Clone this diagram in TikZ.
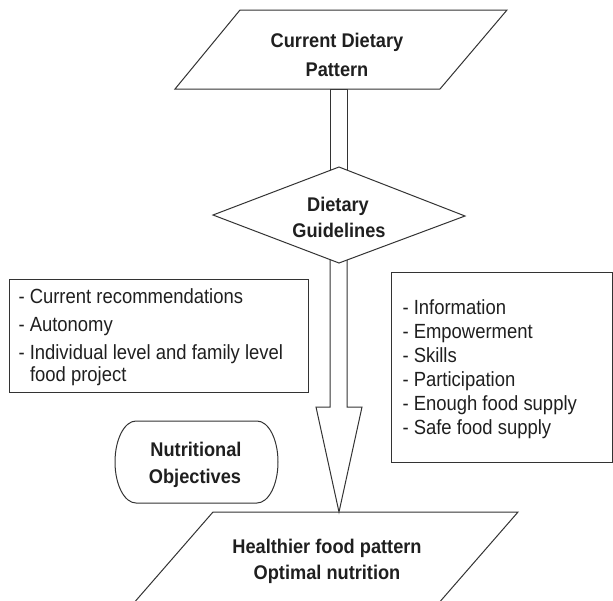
\documentclass[tikz,border=0pt]{standalone}
\usepackage{fontspec}
\setmainfont{Liberation Sans}
\newfontfamily\narrowsans{Liberation Sans}[FakeStretch=0.9]
\newfontfamily\narrowbold{Liberation Sans Bold}[FakeStretch=0.92]
\begin{document}
\begin{tikzpicture}[x=1pt,y=-1pt,line width=1pt,line join=miter,
  ln/.style={draw=black!80},
  ttl/.style={font=\narrowbold\fontsize{19.8}{22}\selectfont,text=black!88,inner sep=0pt,anchor=base},
  itm/.style={font=\narrowsans\fontsize{20.5}{22}\selectfont,text=black!88,inner sep=0pt,anchor=base west}]
\clip (0,0) rectangle (613,600);
% key points
\coordinate (pTopBot) at (339,89);
\coordinate (dTop) at (339,167);
\coordinate (dBot) at (339,263);
\coordinate (tip) at (339,512);
% bottom parallelogram (cut by page edge)
\draw[ln] (119,620) -- (213,512) -- (518,512) -- (424,620);
% upper shaft
\draw[ln] (330,89) rectangle (347,200);
% lower block arrow
\draw[ln,fill=white] (330,230) -- (330,407) -- (316,407) -- (tip) -- (362,407) -- (347,407) -- (347,230);
% diamond
\draw[ln,fill=white] (dTop) -- (465,216) -- (dBot) -- (213,215) -- cycle;
% top parallelogram
\draw[ln,fill=white] (175,89) -- (240,10) -- (507,10) -- (440,89) -- cycle;
% left box
\draw[ln] (9,279) rectangle (308,392);
% right box
\draw[ln] (391,272) rectangle (612,462);
% stadium
\draw[ln] (136,421) -- (257,421) arc[start angle=-90,end angle=90,x radius=21,y radius=41]
  -- (136,503) arc[start angle=90,end angle=270,x radius=21,y radius=41] -- cycle;
% titles
\node[ttl] (t1a) at (337,47) {Current Dietary};
\node[ttl] (t1b) at (337,76) {Pattern};
\node[ttl] (t2a) at (338,211) {Dietary};
\node[ttl] (t2b) at (339,237) {Guidelines};
\node[ttl] (t3a) at (196,456) {Nutritional};
\node[ttl] (t3b) at (195,483) {Objectives};
\node[ttl] (t4a) at (327,553) {Healthier food pattern};
\node[ttl] (t4b) at (327,579) {Optimal nutrition};
% left list
\node[itm] (l1) at (18,303) {- Current recommendations};
\node[itm] (l2) at (18,331) {- Autonomy};
\node[itm] (l3) at (18,359) {- Individual level and family level};
\node[itm] (l4) at (29.5,381) {food project};
% right list
\node[itm] (r1) at (402,314) {- Information};
\node[itm] (r2) at (402,338) {- Empowerment};
\node[itm] (r3) at (402,362) {- Skills};
\node[itm] (r4) at (402,386) {- Participation};
\node[itm] (r5) at (402,410) {- Enough food supply};
\node[itm] (r6) at (402,434) {- Safe food supply};
\end{tikzpicture}
\end{document}
